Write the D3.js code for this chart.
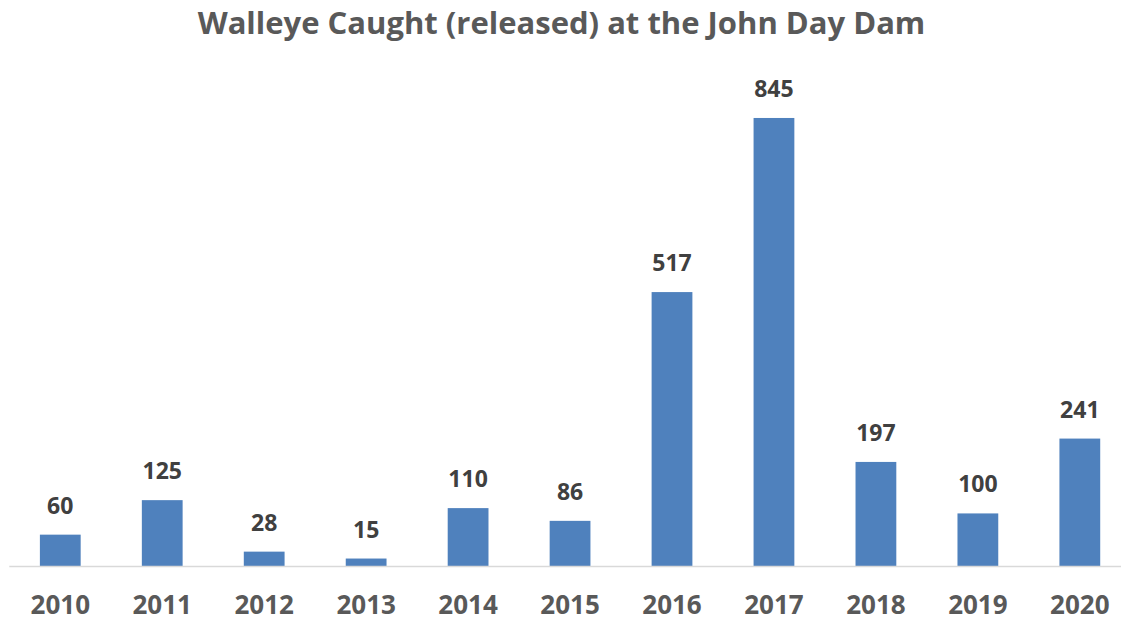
<!DOCTYPE html>
<html>
<head>
<meta charset="utf-8">
<script src="https://cdn.jsdelivr.net/npm/d3@7"></script>
<style>
  html, body { margin: 0; padding: 0; background: #ffffff; }
  svg { display: block; font-family: "Open Sans", "Noto Sans", sans-serif; }
</style>
</head>
<body>
<svg id="chart" width="1121" height="622"></svg>
<script>
// Walleye caught (and released) at the John Day Dam, by year
const years = ["2010", "2011", "2012", "2013", "2014", "2015", "2016", "2017", "2018", "2019", "2020"];
const caught = [60, 125, 28, 15, 110, 86, 517, 845, 197, 100, 241];
const chartTitle = "Walleye Caught (released) at the John Day Dam";

const svg = d3.select("#chart");
const W = 1121, H = 622;

const baseY = 566.5;

const x = d3.scaleBand()
  .domain(years)
  .range([9.3, 1130.8])
  .paddingInner(0.6)
  .paddingOuter(0.3);

const y = d3.scaleLinear()
  .domain([0, 1000])
  .range([baseY, baseY - 530.8]);

const data = years.map((yr, i) => ({ year: yr, value: caught[i] }));

// Title
svg.append("text")
  .attr("x", 561.5)
  .attr("y", 34)
  .attr("text-anchor", "middle")
  .attr("fill", "#595959")
  .attr("font-size", 31)
  .attr("font-weight", 700)
  .text(chartTitle);

// Bars
svg.append("g")
  .selectAll("rect")
  .data(data)
  .join("rect")
  .attr("x", d => x(d.year))
  .attr("width", x.bandwidth())
  .attr("y", d => y(d.value))
  .attr("height", d => y(0) - y(d.value))
  .attr("fill", "#4F81BD");

// Category axis
const xAxis = svg.append("g")
  .attr("transform", `translate(0,${baseY})`)
  .call(d3.axisBottom(x).tickSize(0).tickPadding(0));
xAxis.select(".domain")
  .attr("d", `M9.3,0H${W}`)
  .attr("stroke", "#d9d9d9")
  .attr("stroke-width", 1.5);
xAxis.selectAll(".tick text")
  .attr("dy", 0)
  .attr("y", 614 - baseY)
  .attr("fill", "#595959")
  .attr("font-size", 26)
  .attr("font-weight", 700)
  .attr("font-family", "\"Open Sans\", \"Noto Sans\", sans-serif");

// Value labels above bars
svg.append("g")
  .selectAll("text")
  .data(data)
  .join("text")
  .attr("x", d => x(d.year) + x.bandwidth() / 2)
  .attr("y", d => y(d.value) - 21)
  .attr("text-anchor", "middle")
  .attr("fill", "#404040")
  .attr("font-size", 23)
  .attr("font-weight", 700)
  .text(d => d.value);
</script>
</body>
</html>
